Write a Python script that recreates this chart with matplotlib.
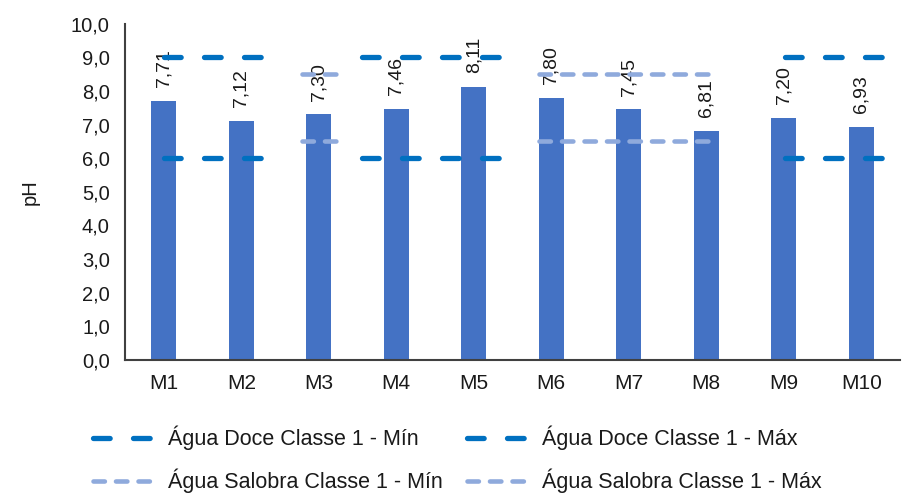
import numpy as np
import matplotlib.pyplot as plt
from matplotlib.ticker import FuncFormatter

plt.rcParams['font.family'] = ['Liberation Sans', 'DejaVu Sans']
plt.rcParams['lines.scale_dashes'] = False

# data
samples = ['M1', 'M2', 'M3', 'M4', 'M5', 'M6', 'M7', 'M8', 'M9', 'M10']
ph = [7.71, 7.12, 7.30, 7.46, 8.11, 7.80, 7.45, 6.81, 7.20, 6.93]

doce_min = 6.0
doce_max = 9.0
salobra_min = 6.5
salobra_max = 8.5

# where each reference line is drawn (category units, M1 = 0)
doce_spans = [(0.0, 1.27), (2.56, 4.35), (8.02, 9.28)]
salobra_spans = [(1.78, 2.23), (4.84, 7.03)]

text_col = '#1a1a1a'
dark = dict(color='#0070C0', lw=3.8, dashes=(12.0, 16.8), dash_capstyle='round')
light = dict(color='#8FAADC', lw=3.3, dashes=(8.2, 8.0), dash_capstyle='round')

fig = plt.figure(figsize=(9.12, 4.99), dpi=100)
ax = fig.add_axes([0.1371, 0.2786, 0.8498, 0.6739])

x = np.arange(len(samples))
ax.bar(x, ph, width=0.323, color='#4472C4', zorder=2)

for xi, v in zip(x, ph):
    ax.annotate(f'{v:.2f}'.replace('.', ','), (xi, v), xytext=(0, 10),
                textcoords='offset points', rotation=90, ha='center',
                va='bottom', fontsize=14, color=text_col, zorder=3)


def draw_limit(spans, level, style):
    h = None
    for a, b in spans:
        h, = ax.plot([a, b], [level, level], zorder=4, **style)
    return h


h1 = draw_limit(doce_spans, doce_min, dark)
h2 = draw_limit(doce_spans, doce_max, dark)
h3 = draw_limit(salobra_spans, salobra_min, light)
h4 = draw_limit(salobra_spans, salobra_max, light)

ax.set_xlim(-0.5, len(samples) - 0.5)
ax.set_ylim(0, 10)
ax.set_yticks(np.arange(0, 11, 1))
ax.yaxis.set_major_formatter(FuncFormatter(lambda v, p: f'{v:.1f}'.replace('.', ',')))
ax.set_xticks(x)
ax.set_xticklabels(samples)

for s in ['top', 'right']:
    ax.spines[s].set_visible(False)
for s in ['left', 'bottom']:
    ax.spines[s].set_color('#404040')
    ax.spines[s].set_linewidth(1.5)

ax.tick_params(axis='y', length=0, pad=11, labelsize=14.5, labelcolor=text_col)
ax.tick_params(axis='x', length=0, pad=10, labelsize=15, labelcolor=text_col)

ax.set_ylabel('pH', fontsize=14.5, color=text_col)
ax.yaxis.set_label_coords(-0.11, 0.5)

handles = [h1, h3, h2, h4]
labels = ['Água Doce Classe 1 - Mín', 'Água Salobra Classe 1 - Mín',
          'Água Doce Classe 1 - Máx', 'Água Salobra Classe 1 - Máx']
leg = fig.legend(handles, labels, ncol=2, loc='upper left',
                 bbox_to_anchor=(93 / 912, 1 - 426 / 499), frameon=False,
                 fontsize=15.5, handlelength=2.8, handletextpad=0.7,
                 columnspacing=1.1, labelspacing=0.85, borderpad=0,
                 borderaxespad=0)
for t in leg.get_texts():
    t.set_color(text_col)

fig.savefig('out.png', dpi=100)
